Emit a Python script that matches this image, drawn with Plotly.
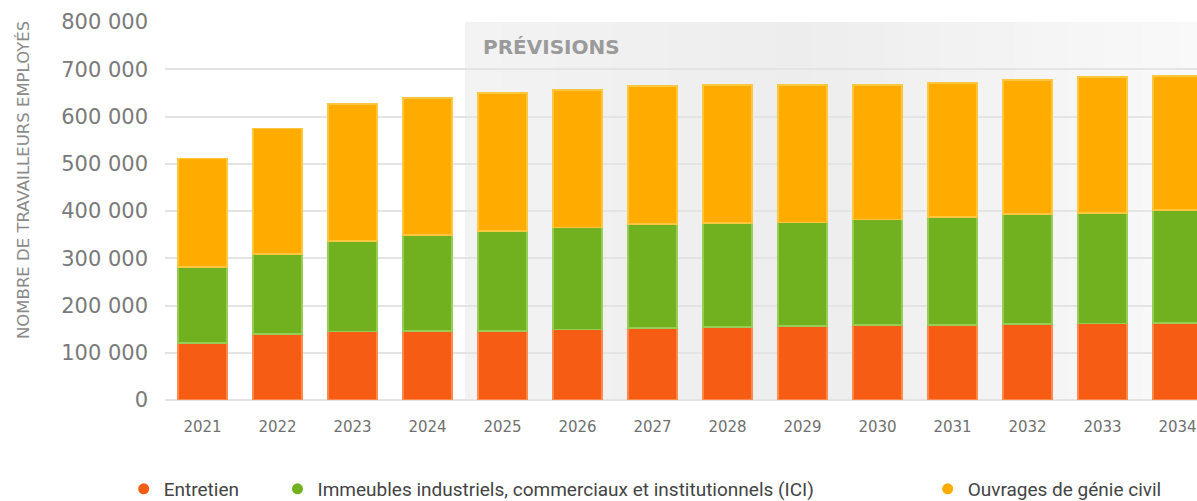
import plotly.graph_objects as go

# Effectifs par secteur (nombre de travailleurs)
years = ["2021", "2022", "2023", "2024", "2025", "2026", "2027",
         "2028", "2029", "2030", "2031", "2032", "2033", "2034"]
entretien = [120500, 140000, 144500, 146000, 146500, 149500, 152000,
             154500, 156500, 158500, 158500, 160500, 161500, 163000]
ici = [160500, 169000, 191500, 203000, 211000, 216000, 220500,
       220000, 219500, 223500, 228500, 233000, 234500, 239000]
genie_civil = [230500, 266000, 290000, 290000, 292000, 290500, 292000,
               292000, 290500, 284500, 283500, 283500, 287500, 283500]
y_ticks = [0, 100000, 200000, 300000, 400000, 500000, 600000, 700000, 800000]
first_forecast = "2025"

series = [
    ("Entretien", entretien, "#f75c15", "#ff8a4c", "legend"),
    ("Immeubles industriels, commerciaux et institutionnels (ICI)", ici,
     "#71b01f", "#97cc55", "legend2"),
    ("Ouvrages de génie civil", genie_civil, "#ffab00", "#ffc640", "legend3"),
]

fig = go.Figure()

for name, values, color, edge, leg in series:
    fig.add_trace(
        go.Bar(
            x=years,
            y=values,
            name=name,
            marker=dict(color=color, line=dict(color=edge, width=1.5)),
            showlegend=False,
        )
    )
    # legend entry with a round marker
    fig.add_trace(
        go.Scatter(
            x=[None],
            y=[None],
            mode="markers",
            name=name,
            marker=dict(color=color, size=11, symbol="circle"),
            legend=leg,
        )
    )

# shaded forecast zone, as thin strips to fake a soft gradient
start = years.index(first_forecast) - 0.5
end = len(years) - 0.74
n_strips = 40
for i in range(n_strips):
    t = i / (n_strips - 1)
    # darker in the middle-left, lighter on the right
    shade = 243 - 6 * min(t / 0.45, 1) + (12 * max(0, (t - 0.45) / 0.55))
    shade = int(round(shade))
    fig.add_shape(
        type="rect",
        xref="x",
        yref="y",
        x0=start + (end - start) * i / n_strips,
        x1=start + (end - start) * (i + 1) / n_strips + 0.01,
        y0=0,
        y1=800000,
        fillcolor=f"rgb({shade},{shade},{shade})",
        line=dict(width=0),
        layer="below",
    )

fig.add_annotation(
    x=start,
    y=800000,
    xref="x",
    yref="y",
    text="<b>PRÉVISIONS</b>",
    showarrow=False,
    xanchor="left",
    yanchor="top",
    xshift=16,
    yshift=-11,
    font=dict(family="DejaVu Sans", size=20, color="#9a9a9a"),
)

# y axis title, placed by hand (not centred on the plot in the original)
fig.add_annotation(
    x=-0.1376,
    y=0.582,
    xref="paper",
    yref="paper",
    text="NOMBRE DE TRAVAILLEURS EMPLOYÉS",
    textangle=-90,
    showarrow=False,
    xanchor="center",
    yanchor="middle",
    font=dict(family="DejaVu Sans", size=16.5, color="#8a8a8a"),
)

# legends placed against the container so they don't squeeze the plot
legend_style = dict(
    orientation="h",
    yref="container",
    yanchor="middle",
    y=0.024,
    xanchor="left",
    font=dict(family="Roboto", size=19, color="#444444"),
    bgcolor="rgba(0,0,0,0)",
)

fig.update_layout(
    barmode="stack",
    bargap=0.35,
    width=1197,
    height=501,
    margin=dict(l=165, r=0, t=22, b=101),
    plot_bgcolor="white",
    paper_bgcolor="white",
    xaxis=dict(
        type="category",
        range=[-0.5, len(years) - 0.74],
        automargin=False,
        showgrid=False,
        showline=False,
        tickfont=dict(family="DejaVu Sans", size=15, color="#707070"),
        ticks="",
        ticklabelstandoff=16,
    ),
    yaxis=dict(
        range=[0, 800000],
        automargin=False,
        tickvals=y_ticks,
        ticktext=[f"{v:,}".replace(",", " ") for v in y_ticks],
        showgrid=True,
        gridcolor="#e4e4e4",
        gridwidth=1.5,
        zeroline=True,
        zerolinecolor="#e4e4e4",
        zerolinewidth=1.5,
        tickfont=dict(family="DejaVu Sans", size=21, color="#7a7a7a"),
        ticklabelstandoff=16,
    ),
    legend=dict(x=-0.040, **legend_style),
    legend2=dict(x=0.109, **legend_style),
    legend3=dict(x=0.739, **legend_style),
    showlegend=True,
)

# drop the default page margin so the figure sits at the window's corner
fig.write_html(
    "out.html",
    config={"displayModeBar": False},
    post_script="document.body.style.margin = '0';",
)
